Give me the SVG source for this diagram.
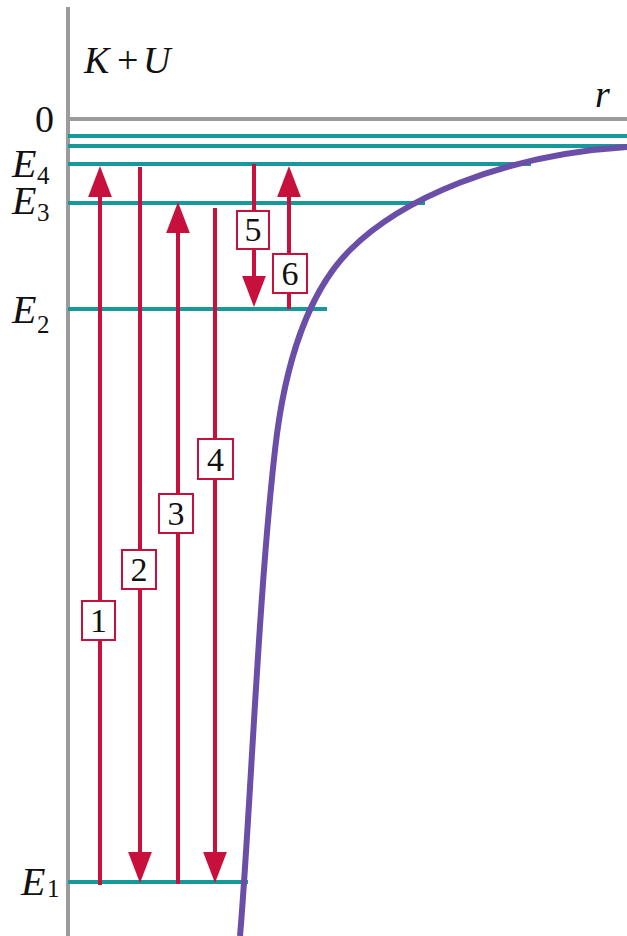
<svg xmlns="http://www.w3.org/2000/svg" width="627" height="936" viewBox="0 0 627 936">
<style>
.ax{stroke:#9b9b9b;stroke-width:4;fill:none}
.lv{stroke:#16999a;stroke-width:4;fill:none}
.ar{stroke:#c8103c;stroke-width:4;fill:none}
.bx{fill:#fff;stroke:#c8103c;stroke-width:2}
.num{font-family:"Liberation Serif","Times New Roman",serif;font-size:34px;fill:#111;text-anchor:middle}
.lab{font-family:"Liberation Serif","Times New Roman",serif;font-size:38px;fill:#111}
.ev{font-family:"Liberation Serif","Times New Roman",serif;font-size:40px;font-style:italic;fill:#111}
.sub{font-family:"Liberation Serif","Times New Roman",serif;font-size:25px;fill:#111}
.cv{stroke:#6a4ea8;stroke-width:6;fill:none}
</style>
<defs>
<marker id="ah" markerUnits="userSpaceOnUse" markerWidth="32" markerHeight="26" viewBox="0 -12 31 24" refX="0" refY="0" orient="auto">
<path d="M0,-11.5 L30,0 L0,11.5 z" fill="#c8103c"/>
</marker>
</defs>
<rect width="627" height="936" fill="#fff"/>
<g id="axes">
<line class="ax" x1="68" y1="7" x2="68" y2="936"/>
<line class="ax" x1="66" y1="119" x2="627" y2="119"/>
<text class="lab" x="84" y="73" font-style="italic">K</text>
<text class="lab" x="117" y="73">+</text>
<text class="lab" x="143" y="73" font-style="italic">U</text>
<text class="lab" x="595" y="107" font-style="italic" font-size="46">r</text>
<text class="lab" x="35" y="132">0</text>
</g>
<g id="levels">
<line class="lv" x1="68" y1="136" x2="627" y2="136"/>
<line class="lv" x1="68" y1="146" x2="627" y2="146"/>
<g id="E4"><line class="lv" x1="68" y1="164" x2="531" y2="164"/><text class="ev" x="12" y="177">E</text><text class="sub" x="37" y="184">4</text></g>
<g id="E3"><line class="lv" x1="68" y1="203" x2="425" y2="203"/><text class="ev" x="12" y="214">E</text><text class="sub" x="37" y="221">3</text></g>
<g id="E2"><line class="lv" x1="68" y1="309" x2="327" y2="309"/><text class="ev" x="12" y="323">E</text><text class="sub" x="37" y="333">2</text></g>
<g id="E1"><line class="lv" x1="68" y1="882" x2="248" y2="882"/><text class="ev" x="21" y="895" font-size="42">E</text><text class="sub" x="47" y="897">1</text></g>
</g>
<g id="curve">
<path class="cv" d="M240,936 C250,820 258,600 275,450 C285,360 310,290 350,250 C400,200 500,155 627,147"/>
</g>
<g id="connectors">
<line class="ar" x1="100" y1="885" x2="100" y2="197" marker-end="url(#ah)"/>
<line class="ar" x1="140" y1="167" x2="140" y2="852" marker-end="url(#ah)"/>
<line class="ar" x1="178" y1="884" x2="178" y2="233" marker-end="url(#ah)"/>
<line class="ar" x1="215" y1="208" x2="215" y2="852" marker-end="url(#ah)"/>
<line class="ar" x1="254" y1="164" x2="254" y2="276" marker-end="url(#ah)"/>
<line class="ar" x1="289" y1="309" x2="289" y2="197" marker-end="url(#ah)"/>
</g>
<g id="label1"><rect class="bx" x="82" y="601" width="33" height="39"/><text class="num" x="98.5" y="632">1</text></g>
<g id="label2"><rect class="bx" x="122" y="550" width="34" height="39"/><text class="num" x="139" y="581">2</text></g>
<g id="label3"><rect class="bx" x="159" y="494" width="34" height="39"/><text class="num" x="176" y="525">3</text></g>
<g id="label4"><rect class="bx" x="198" y="439" width="35" height="40"/><text class="num" x="215.5" y="471">4</text></g>
<g id="label5"><rect class="bx" x="237" y="211" width="32" height="38"/><text class="num" x="253" y="241">5</text></g>
<g id="label6"><rect class="bx" x="273" y="254" width="34" height="39"/><text class="num" x="290" y="285">6</text></g>
</svg>
